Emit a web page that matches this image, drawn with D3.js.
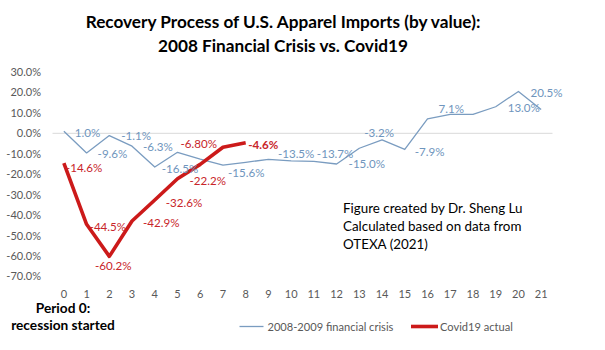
<!DOCTYPE html>
<html>
<head>
<meta charset="utf-8">
<script src="https://cdn.jsdelivr.net/npm/d3@7"></script>
<style>
  html, body { margin: 0; padding: 0; background: #fff; }
  svg { display: block; }
</style>
</head>
<body>
<svg id="chart" width="605" height="350"></svg>
<script>
// ---- data ----
const periods = ["0","1","2","3","4","5","6","7","8","9","10","11","12","13","14","15","16","17","18","19","20","21"];
const crisisValues = [1.0, -9.6, -1.1, -6.3, -16.5, -9.3, -12.6, -15.6, -14.2, -12.7, -13.5, -13.7, -15.0, -7.3, -3.2, -7.9, 7.1, 9.3, 9.3, 13.0, 20.5, 11.7];
const crisisLabels = ["1.0%", "-9.6%", "-1.1%", "-6.3%", "-16.5%", null, null, "-15.6%", null, null, "-13.5%", "-13.7%", "-15.0%", null, "-3.2%", "-7.9%", "7.1%", null, null, "13.0%", "20.5%", null];
const covidValues = [-14.6, -44.5, -60.2, -42.9, -32.6, -22.2, -15.2, -6.8, -4.6];
const covidLabels = ["-14.6%", "-44.5%", "-60.2%", "-42.9%", "-32.6%", "-22.2%", null, "-6.80%", "-4.6%"];
const yTicks = [30, 20, 10, 0, -10, -20, -30, -40, -50, -60, -70];
const seriesNames = ["2008-2009 financial crisis", "Covid19 actual"];
const titleLines = ["Recovery Process of U.S. Apparel Imports (by value):", "2008 Financial Crisis vs. Covid19"];
const noteLines = ["Figure created by Dr. Sheng Lu", "Calculated based on data from", "OTEXA (2021)"];
const periodNote = ["Period 0:", "recession started"];

// ---- label placement (style, not data): [dx, dy, anchor] ----
const crisisLabelPos = {
  0:[11,1,"start"], 1:[11,1,"start"], 2:[12,0,"start"], 3:[11,0,"start"], 4:[7,1,"start"],
  7:[5,7,"start"], 10:[5,-7,"middle"], 11:[3,-8,"start"], 12:[12,0,"start"], 14:[-3,-7,"middle"],
  15:[10,2.5,"start"], 16:[11,-10.5,"start"], 19:[12,0.5,"start"], 20:[12,1,"start"]
};
const covidLabelPos = {
  0:[2,4,"start"], 1:[3,2,"start"], 2:[4,9,"middle"], 3:[11,1.5,"start"], 4:[11,2.5,"start"],
  5:[12,1.5,"start"], 7:[-6,-4,"end"], 8:[2.5,1.5,"start"]
};

const FONT = "Lato, 'Open Sans', sans-serif";
const blue = "#7a9cc0", blueText = "#6f95bd";
const red = "#cc1a1a", redText = "#c8252a";
const gray = "#595959";

const svg = d3.select("#chart");
const x = d3.scaleBand().domain(periods).range([52.5, 552.5]).padding(0);
const cx = p => x(p) + x.bandwidth() / 2;
const y = d3.scaleLinear().domain([-70, 30]).range([276.4, 72]);

// title
svg.append("g").selectAll("text").data(titleLines).join("text")
  .attr("x", 283).attr("y", (d, i) => 28 + i * 24)
  .attr("text-anchor", "middle")
  .style("font-family", FONT).style("font-weight", "bold").style("font-size", "17.2px")
  .attr("fill", "#000").text(d => d);

// zero line
svg.append("line")
  .attr("x1", 52.5).attr("x2", 552.5).attr("y1", y(0)).attr("y2", y(0))
  .attr("stroke", "#d9d9d9").attr("stroke-width", 1);

// y axis
const yAxis = svg.append("g").attr("transform", "translate(52.5,0)")
  .call(d3.axisLeft(y).tickValues(yTicks).tickSize(0).tickPadding(11.5).tickFormat(d => d.toFixed(1) + "%"));
yAxis.select(".domain").remove();
yAxis.selectAll("text").style("font-family", FONT).style("font-size", "11px").attr("fill", gray);

// x axis (low position)
const xAxis = svg.append("g").attr("transform", "translate(0,287)")
  .call(d3.axisBottom(x).tickSize(0).tickPadding(3));
xAxis.select(".domain").remove();
xAxis.selectAll("text").style("font-family", FONT).style("font-size", "11px").attr("fill", gray);

// lines
const line = d3.line().x(d => cx(d.p)).y(d => y(d.v));
const crisisData = crisisValues.map((v, i) => ({p: periods[i], v, label: crisisLabels[i], i}));
const covidData = covidValues.map((v, i) => ({p: periods[i], v, label: covidLabels[i], i}));

svg.append("path").datum(crisisData).attr("d", line)
  .attr("fill", "none").attr("stroke", blue).attr("stroke-width", 1.3).attr("stroke-linejoin", "round");
svg.append("path").datum(covidData).attr("d", line)
  .attr("fill", "none").attr("stroke", red).attr("stroke-width", 3.6).attr("stroke-linejoin", "round");

// labels
svg.append("g").selectAll("text").data(crisisData.filter(d => d.label)).join("text")
  .attr("x", d => cx(d.p) + crisisLabelPos[d.i][0])
  .attr("y", d => y(d.v) + crisisLabelPos[d.i][1])
  .attr("text-anchor", d => crisisLabelPos[d.i][2])
  .attr("dominant-baseline", "central")
  .style("font-family", FONT).style("font-size", "11.6px").attr("fill", blueText)
  .text(d => d.label);

svg.append("g").selectAll("text").data(covidData.filter(d => d.label)).join("text")
  .attr("x", d => cx(d.p) + covidLabelPos[d.i][0])
  .attr("y", d => y(d.v) + covidLabelPos[d.i][1])
  .attr("text-anchor", d => covidLabelPos[d.i][2])
  .attr("dominant-baseline", "central")
  .style("font-family", FONT).style("font-size", "11.6px")
  .style("font-weight", d => d.i === covidValues.length - 1 ? "bold" : "normal")
  .attr("fill", redText)
  .text(d => d.label);

// note
svg.append("g").selectAll("text").data(noteLines).join("text")
  .attr("x", 343).attr("y", (d, i) => 212.5 + i * 18)
  .style("font-family", FONT).style("font-size", "13.4px").attr("fill", "#000")
  .text(d => d);

// period note
svg.append("g").selectAll("text").data(periodNote).join("text")
  .attr("x", 63).attr("y", (d, i) => 312.5 + i * 17)
  .attr("text-anchor", "middle")
  .style("font-family", FONT).style("font-weight", "bold").style("font-size", "13.7px").attr("fill", "#000")
  .text(d => d);

// legend
const legend = svg.append("g");
const legItems = [
  {name: seriesNames[0], color: blue, w: 1.3, x1: 239.5, x2: 263.5, tx: 267.5},
  {name: seriesNames[1], color: red, w: 3.6, x1: 411, x2: 438, tx: 440}
];
legItems.forEach(it => {
  legend.append("line").attr("x1", it.x1).attr("x2", it.x2).attr("y1", 326.5).attr("y2", 326.5)
    .attr("stroke", it.color).attr("stroke-width", it.w);
  legend.append("text").attr("x", it.tx).attr("y", 326.5).attr("dominant-baseline", "central")
    .style("font-family", FONT).style("font-size", "11.1px").attr("fill", gray).text(it.name);
});
</script>
</body>
</html>
